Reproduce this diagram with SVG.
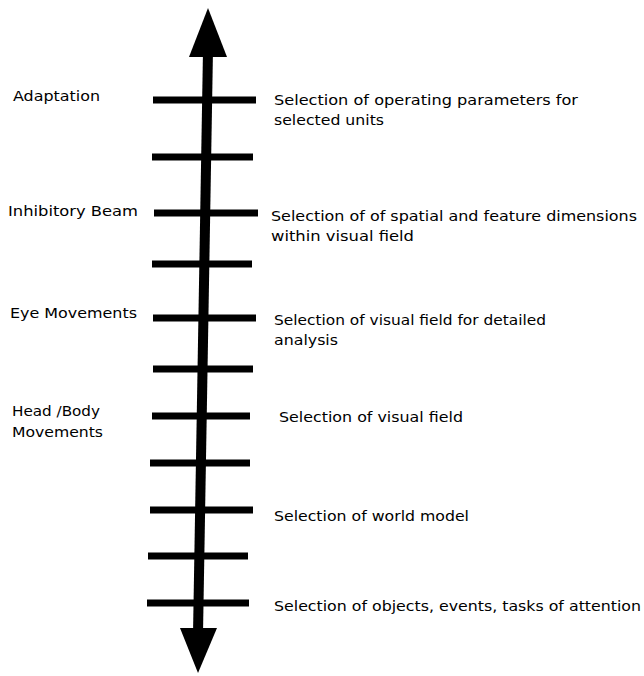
<svg xmlns="http://www.w3.org/2000/svg" width="644" height="676" viewBox="0 0 644 676">
<style>
.bar{stroke:#000;stroke-width:7;fill:none}
.shaft{stroke:#000;stroke-width:10;fill:none}
.head{fill:#000}
text{font-family:"DejaVu Sans","Liberation Sans",sans-serif;font-size:14px;fill:#000}
</style>
<rect width="644" height="676" fill="#fff"/>
<g id="axis">
<line class="shaft" x1="208" y1="50" x2="198" y2="634"/>
<polygon class="head" points="208,8 227,57 189,57"/>
<polygon class="head" points="198,673 217,628 180,628"/>
</g>
<g id="ticks">
<line class="bar" x1="153" y1="100" x2="256" y2="100"/>
<line class="bar" x1="152" y1="157" x2="253" y2="157"/>
<line class="bar" x1="154" y1="213" x2="258" y2="213"/>
<line class="bar" x1="152" y1="264" x2="252" y2="264"/>
<line class="bar" x1="153" y1="318" x2="256" y2="318"/>
<line class="bar" x1="153" y1="369" x2="253" y2="369"/>
<line class="bar" x1="152" y1="416" x2="250" y2="416"/>
<line class="bar" x1="150" y1="463" x2="250" y2="463"/>
<line class="bar" x1="150" y1="510" x2="253" y2="510"/>
<line class="bar" x1="148" y1="556" x2="248" y2="556"/>
<line class="bar" x1="147" y1="603" x2="249" y2="603"/>
</g>
<g id="left-labels">
<text x="13" y="101" textLength="87" lengthAdjust="spacingAndGlyphs">Adaptation</text>
<text x="8" y="216" textLength="130" lengthAdjust="spacingAndGlyphs">Inhibitory Beam</text>
<text x="10" y="318" textLength="127" lengthAdjust="spacingAndGlyphs">Eye Movements</text>
<text x="12" y="416" textLength="88" lengthAdjust="spacingAndGlyphs">Head /Body</text>
<text x="12" y="437" textLength="91" lengthAdjust="spacingAndGlyphs">Movements</text>
</g>
<g id="right-labels">
<text x="274" y="105" textLength="304" lengthAdjust="spacingAndGlyphs">Selection of operating parameters for</text>
<text x="274" y="125" textLength="110" lengthAdjust="spacingAndGlyphs">selected units</text>
<text x="271" y="221" textLength="366" lengthAdjust="spacingAndGlyphs">Selection of of spatial and feature dimensions</text>
<text x="271" y="241" textLength="143" lengthAdjust="spacingAndGlyphs">within visual field</text>
<text x="274" y="325" textLength="272" lengthAdjust="spacingAndGlyphs">Selection of visual field for detailed</text>
<text x="274" y="345" textLength="64" lengthAdjust="spacingAndGlyphs">analysis</text>
<text x="279" y="422" textLength="184" lengthAdjust="spacingAndGlyphs">Selection of visual field</text>
<text x="274" y="521" textLength="195" lengthAdjust="spacingAndGlyphs">Selection of world model</text>
<text x="274" y="611" textLength="367" lengthAdjust="spacingAndGlyphs">Selection of objects, events, tasks of attention</text>
</g>
</svg>
